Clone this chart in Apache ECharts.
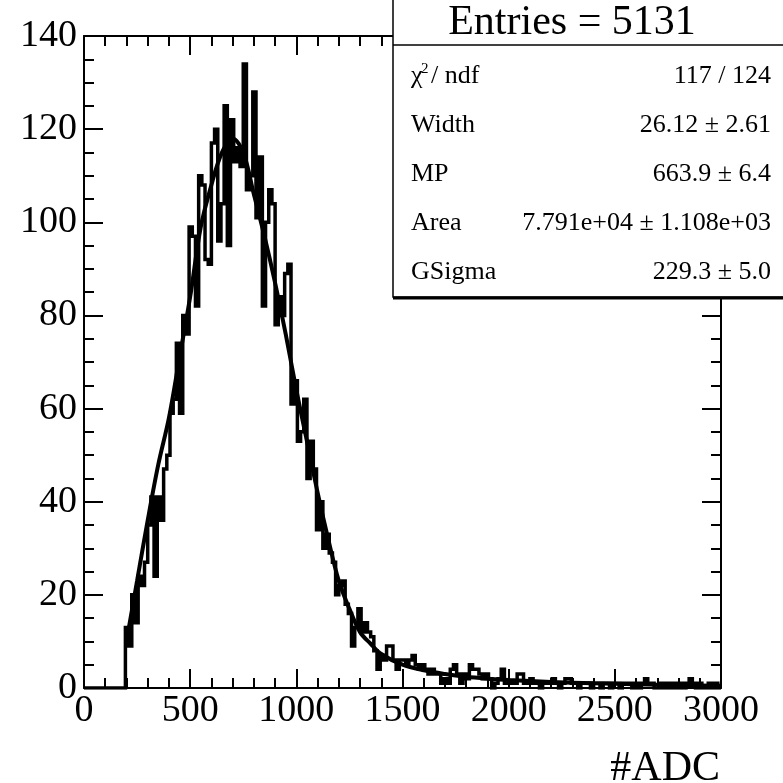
<!DOCTYPE html>
<html>
<head>
<meta charset="utf-8">
<script src="https://cdn.jsdelivr.net/npm/echarts@6/dist/echarts.min.js"></script>
<style>
html,body{margin:0;padding:0;background:#fff;}
#chart{width:783px;height:783px;}
</style>
</head>
<body>
<div id="chart"></div>
<script>
// ---- data ----
const binWidth = 15;
const firstBin = 195;
const counts = [
13,9,20,14,24,22,27,35,41,24,41,36,47,50,59,62,74,59,80,76,99,97,82,110,108,92,91,
117,120,96,104,125,95,122,113,116,112,134,107,110,128,101,114,82,100,107,104,78,84,80,89,91,61,66,
53,55,62,45,53,47,34,40,30,33,29,27,20,22,23,18,16,9,13,17,12,14,12,11,8,4,7,
6,9,9,6,4,6,6,5,6,7,5,4,5,4,3,4,3,3,1,2,1,4,5,3,1,3,2,5,4,4,3,2,3,2,0,1,2,4,1,1,1,1,3,3,1,1,2,1,1,0,
1,1,1,2,1,0,1,2,2,1,1,0,1,1,1,0,1,1,0,1,1,0,1,1,0,1,1,1,0,1,0,1,2,1,1,0,0,1,0,1,0,1,0,1,0,1,2,1,0,1,0,0,1,0,1,0
];
const fitX = [200,250,300,350,400,450,500,550,600,650,700,750,800,850,900,950,1000,1050,1100,1150,1200,1250,1300,1350,1400,1500,1600,1700,1800,1900,2000,2200,2400,2600,2800,3000];
const fitY = [10,23,36,48,58,71,84,99,108,115,118,115,106,97,87,76,64,53,42,32,23,17,12,9.5,7.3,5,3.8,3,2.4,2,1.7,1.3,1,0.8,0.6,0.5];
const xTicks = [0,500,1000,1500,2000,2500,3000];
const yTicks = [0,20,40,60,80,100,120,140];
const statsTitle = 'Entries = 5131';
const statsLabels = ['Width','MP','Area','GSigma'];
const statsValues = ['117 / 124','26.12 \u00b1 2.61','663.9 \u00b1 6.4','7.791e+04 \u00b1 1.108e+03','229.3 \u00b1 5.0'];
const xTitle = '#ADC';

// ---- build series data ----
const histData = [[0,0]];
counts.forEach((c,i)=>histData.push([firstBin + i*binWidth, c]));
histData.push([firstBin + counts.length*binWidth, counts[counts.length-1]]);
const fitData = fitX.map((x,i)=>[x, fitY[i]]);

const FONT = 'Liberation Serif';
const chart = echarts.init(document.getElementById('chart'), null, {renderer:'canvas'});

function axisCommon(showLabel, isX){
  return {
    axisLine:{show:true, onZero:false, lineStyle:{color:'#000', width:2}},
    axisTick:{show:true, inside:true, length:19, lineStyle:{color:'#000', width:2}},
    minorTick:{show:true, splitNumber: isX?5:4, length:10, lineStyle:{color:'#000', width:2}},
    splitLine:{show:false},
    axisLabel:{show:showLabel, color:'#000', fontFamily:FONT, fontSize:38, margin: isX?4:7,
      padding: isX ? 0 : [6,0,0,0],
      formatter: v => String(v)}
  };
}

function txt(x, y, t, size, align){
  return {type:'text', x:x, y:y, z:12, style:{text:t, font:size+'px "Liberation Serif"', fill:'#000', textAlign:align, textVerticalAlign:'middle'}};
}

const option = {
  animation:false,
  backgroundColor:'#fff',
  grid:{left:84, right:62, top:36, bottom:95, containLabel:false},
  xAxis:[
    Object.assign({type:'value', min:xTicks[0], max:xTicks[xTicks.length-1], interval:500, position:'bottom'}, axisCommon(true,true)),
    Object.assign({type:'value', min:xTicks[0], max:xTicks[xTicks.length-1], interval:500, position:'top'}, axisCommon(false,true))
  ],
  yAxis:[
    Object.assign({type:'value', min:yTicks[0], max:yTicks[yTicks.length-1], interval:20, position:'left'}, axisCommon(true,false)),
    Object.assign({type:'value', min:yTicks[0], max:yTicks[yTicks.length-1], interval:20, position:'right'}, axisCommon(false,false))
  ],
  series:[
    {type:'line', step:'end', data:histData, showSymbol:false, symbol:'none',
     lineStyle:{color:'#000', width:3.5, join:'miter'}, z:2},
    {type:'line', smooth:0.35, data:fitData, showSymbol:false, symbol:'none',
     lineStyle:{color:'#000', width:4}, z:3}
  ],
  graphic:[
    {type:'text', right:63, top:748, z:12, style:{text:xTitle, font:'42px "Liberation Serif"', fill:'#000'}},
    {type:'rect', shape:{x:393, y:-5, width:420, height:302}, style:{fill:'#fff', stroke:'#000', lineWidth:1.5}, z:10},
    {type:'line', shape:{x1:393, y1:298, x2:800, y2:298}, style:{stroke:'#000', lineWidth:3}, z:11},
    {type:'line', shape:{x1:393, y1:45, x2:800, y2:45}, style:{stroke:'#000', lineWidth:1.5}, z:11},
    txt(572, 23, statsTitle, 42, 'center'),
    txt(411, 76, '\u03c7', 26, 'left'),
    txt(421, 69, '2', 15, 'left'),
    txt(431, 76, '/ ndf', 26, 'left'),
    ...statsLabels.map((t,i)=>txt(411, 125+49*i, t, 26, 'left')),
    ...statsValues.map((t,i)=>txt(771, 76+49*i, t, 26, 'right'))
  ]
};
chart.setOption(option);
</script>
</body>
</html>
